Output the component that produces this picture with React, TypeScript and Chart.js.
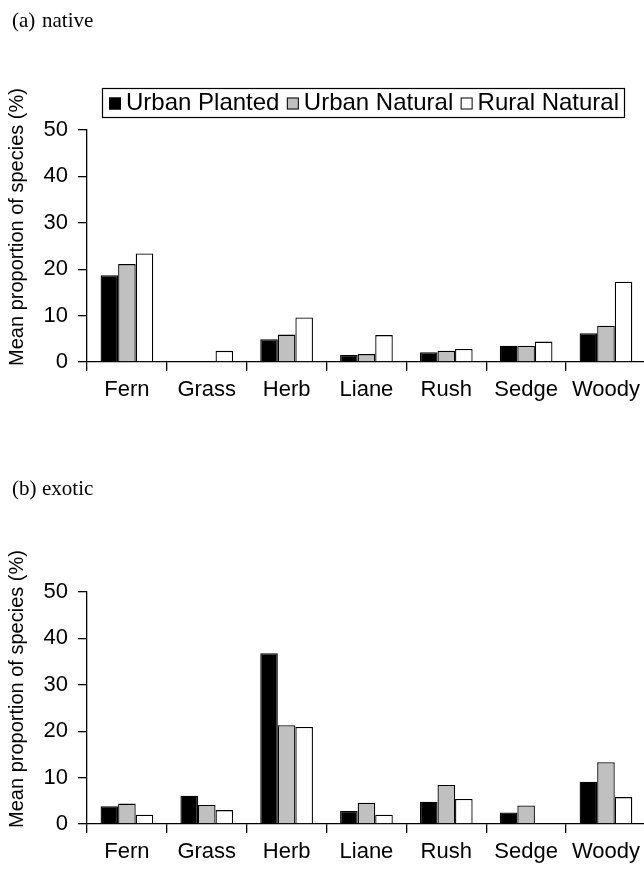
import React, { useEffect, useRef } from "react";
import { Chart, registerables } from "chart.js";

Chart.register(...registerables);

const categories = ["Fern", "Grass", "Herb", "Liane", "Rush", "Sedge", "Woody"];
const seriesNames = ["Urban Planted", "Urban Natural", "Rural Natural"];
const seriesColors = ["#000000", "#c0c0c0", "#ffffff"];

const nativeUrbanPlanted = [18.7, 0, 4.9, 1.5, 2.1, 3.5, 6.2];
const nativeUrbanNatural = [21.1, 0, 5.9, 1.7, 2.4, 3.5, 7.8];
const nativeRuralNatural = [23.4, 2.4, 9.6, 5.8, 2.8, 4.4, 17.3];

const exoticUrbanPlanted = [3.8, 6.1, 36.8, 2.8, 4.8, 2.5, 9.1];
const exoticUrbanNatural = [4.4, 4.1, 21.3, 4.6, 8.4, 4.0, 13.3];
const exoticRuralNatural = [2.0, 3.0, 20.9, 2.0, 5.4, 0, 5.8];

const yMin = 0;
const yMax = 50;
const yStep = 10;
const yTitle = "Mean proportion of species (%)";
const panelA = ["(a)", "native"];
const panelB = ["(b)", "exotic"];

const SANS = "'Liberation Sans', Arial, sans-serif";
const SERIF = "'Liberation Serif', 'Times New Roman', serif";

function makeConfig(values: number[][], panel: string[], titleBaseline: number, showLegend: boolean, bottomPad: number): any {
  const decor = {
    id: "decor",
    afterDraw(chart: any) {
      const ctx = chart.ctx as CanvasRenderingContext2D;
      ctx.save();
      ctx.fillStyle = "#000";
      // panel title
      ctx.font = `21px ${SERIF}`;
      ctx.textAlign = "left";
      ctx.textBaseline = "alphabetic";
      ctx.fillText(panel[0], 12, titleBaseline);
      ctx.fillText(panel[1], 42, titleBaseline);
      // y axis title
      ctx.save();
      ctx.translate(17, 227);
      ctx.rotate(-Math.PI / 2);
      ctx.font = `20px ${SANS}`;
      ctx.textAlign = "center";
      ctx.textBaseline = "middle";
      ctx.fillText(yTitle, 0, 0);
      ctx.restore();
      if (showLegend) {
        const bx = 102, by = 88, bw = 522, bh = 29;
        ctx.strokeStyle = "#000";
        ctx.lineWidth = 1.2;
        ctx.strokeRect(bx + 0.5, by + 0.5, bw, bh);
        ctx.font = `24px ${SANS}`;
        ctx.textBaseline = "middle";
        const ds = chart.data.datasets;
        const sq = 12;
        const gapIn = 5;
        const widths = ds.map((d: any) => ctx.measureText(d.label).width);
        const start = 109;
        const end = 619;
        const total = widths.reduce((a: number, b: number) => a + b, 0) + ds.length * (sq + gapIn);
        const gapOut = Math.max(4, (end - start - total) / (ds.length - 1));
        let x = start;
        const cy = by + bh / 2 + 1;
        ds.forEach((d: any, i: number) => {
          ctx.fillStyle = d.backgroundColor;
          ctx.fillRect(x, cy - sq / 2, sq, sq);
          ctx.strokeStyle = "#000";
          ctx.lineWidth = 1;
          ctx.strokeRect(x + 0.5, cy - sq / 2 + 0.5, sq - 1, sq - 1);
          x += sq + gapIn;
          ctx.fillStyle = "#000";
          ctx.fillText(d.label, x, cy);
          x += widths[i] + gapOut;
        });
      }
      ctx.restore();
    },
  };

  return {
    type: "bar",
    data: {
      labels: categories,
      datasets: values.map((v, i) => ({
        label: seriesNames[i],
        data: v,
        backgroundColor: seriesColors[i],
        borderColor: "#000",
        borderWidth: 1.3,
        barPercentage: 1,
        categoryPercentage: 0.66,
      })),
    },
    options: {
      responsive: false,
      animation: false,
      layout: { padding: { top: 130, left: 0, right: 0, bottom: bottomPad } },
      plugins: {
        legend: { display: false },
        title: { display: false },
        tooltip: { enabled: false },
      },
      scales: {
        x: {
          grid: {
            offset: true,
            drawOnChartArea: false,
            tickLength: 9,
            color: "#000",
            lineWidth: 1.3,
          },
          border: { color: "#000", width: 1.3 },
          ticks: {
            color: "#000",
            font: { family: SANS, size: 22 },
            padding: 6,
            maxRotation: 0,
            autoSkip: false,
          },
          afterFit: (s: any) => {
            s.height = 45;
          },
        },
        y: {
          min: yMin,
          max: yMax,
          grid: {
            drawOnChartArea: false,
            tickLength: 9,
            color: "#000",
            lineWidth: 1.3,
          },
          border: { color: "#000", width: 1.3 },
          ticks: {
            stepSize: yStep,
            color: "#000",
            font: { family: SANS, size: 22 },
            padding: 10,
          },
          afterFit: (s: any) => {
            s.width = 87;
          },
        },
      },
    },
    plugins: [decor],
  };
}

function BarPanel(props: { values: number[][]; panel: string[]; titleBaseline: number; legend: boolean; height: number; bottomPad: number; top: number }) {
  const ref = useRef<HTMLCanvasElement | null>(null);
  useEffect(() => {
    if (!ref.current) return;
    const chart = new Chart(
      ref.current,
      makeConfig(props.values, props.panel, props.titleBaseline, props.legend, props.bottomPad)
    );
    return () => chart.destroy();
  }, []);
  return (
    <canvas
      ref={ref}
      width={646}
      height={props.height}
      style={{ position: "absolute", left: 0, top: props.top, width: 646, height: props.height, display: "block" }}
    />
  );
}

export default function App() {
  return (
    <div
      style={{
        position: "absolute",
        left: 0,
        top: 0,
        width: 644,
        height: 873,
        overflow: "hidden",
        background: "#fff",
      }}
    >
      <BarPanel
        values={[nativeUrbanPlanted, nativeUrbanNatural, nativeRuralNatural]}
        panel={panelA}
        titleBaseline={27}
        legend={true}
        height={462}
        bottomPad={55}
        top={0}
      />
      <BarPanel
        values={[exoticUrbanPlanted, exoticUrbanNatural, exoticRuralNatural]}
        panel={panelB}
        titleBaseline={33}
        legend={false}
        height={411}
        bottomPad={4}
        top={462}
      />
    </div>
  );
}
